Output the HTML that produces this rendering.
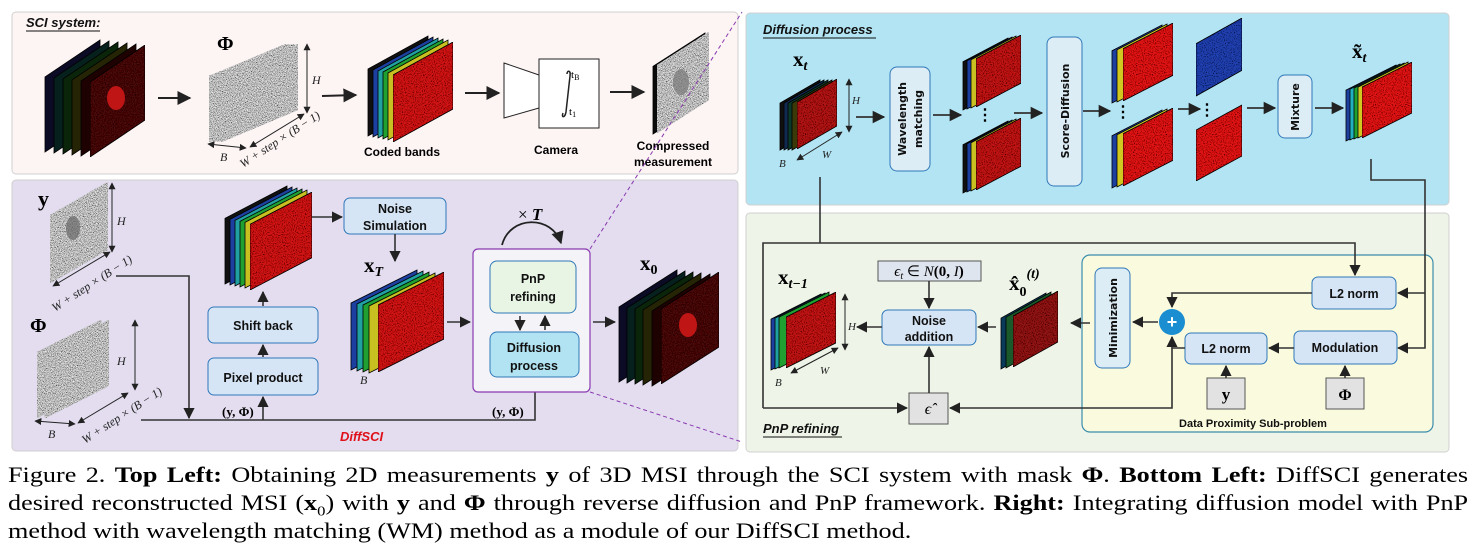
<!DOCTYPE html>
<html><head><meta charset="utf-8"><style>
body{margin:0;background:#fff;width:1476px;height:556px;overflow:hidden;position:relative}
svg{position:absolute;left:0;top:0}
.cap{position:absolute;left:8px;width:1227px;transform:scaleX(1.19);transform-origin:0 0;font-family:"Liberation Serif",serif;font-size:22px;line-height:28px;color:#000;white-space:nowrap}
.j{text-align:justify;text-align-last:justify;white-space:normal}
.cap b{font-weight:bold}
</style></head><body>
<svg width="1476" height="460" viewBox="0 0 1476 460" font-family="'Liberation Sans Narrow','Liberation Sans',sans-serif">
<defs>
<polygon id="s" points="0,0.33 1,0 1,0.67 0,1" stroke="#000" stroke-width="0.8" vector-effect="non-scaling-stroke"/>
<filter id="nz" x="0" y="0" width="1" height="1"><feTurbulence type="fractalNoise" baseFrequency="0.9" numOctaves="1" seed="3" result="t"/><feColorMatrix in="t" type="matrix" values="0 0 0 0 0  0 0 0 0 0  0 0 0 0 0  0 0 0 -3 1.6" result="d"/><feComposite in="d" in2="SourceGraphic" operator="in" result="dm"/><feMerge><feMergeNode in="SourceGraphic"/><feMergeNode in="dm"/></feMerge></filter>
<filter id="ng" x="0" y="0" width="1" height="1"><feTurbulence type="fractalNoise" baseFrequency="1.2" numOctaves="1" seed="7" result="t"/><feColorMatrix in="t" type="matrix" values="2 0 0 0 -0.5  2 0 0 0 -0.5  2 0 0 0 -0.5  0 0 0 0 1" result="d"/><feComposite in="d" in2="SourceGraphic" operator="in"/></filter>
<marker id="a" viewBox="0 0 10 10" refX="9" refY="5" markerWidth="7" markerHeight="7" orient="auto-start-reverse"><path d="M0,0 L10,5 L0,10 z" fill="#222"/></marker>
</defs>

<rect x="12" y="12" width="726" height="162" rx="4" fill="#fdf4f4" stroke="#d0d0d0"/>
<rect x="12" y="180" width="726" height="271" rx="4" fill="#e3ddef" stroke="#d0d0d0"/>
<rect x="746" y="13" width="703" height="192" rx="4" fill="#b2e4f3" stroke="#d0d0d0"/>
<rect x="746" y="213" width="703" height="239" rx="4" fill="#eef5e8" stroke="#d0d0d0"/>
<rect x="1082" y="255" width="351" height="177" rx="8" fill="#fafade" stroke="#3a8cad" stroke-width="1.2"/>

<g font-style="italic" font-weight="bold" font-size="13" fill="#111">
<text x="26" y="27">SCI system:</text><line x1="26" y1="31" x2="100" y2="31" stroke="#111"/>
<text x="763" y="34">Diffusion process</text><line x1="763" y1="38" x2="876" y2="38" stroke="#111"/>
<text x="763" y="433">PnP refining</text><line x1="763" y1="437" x2="842" y2="437" stroke="#111"/>
<text x="340" y="441" fill="#e0101a">DiffSCI</text>
</g>

<use href="#s" transform="translate(45 40) scale(55 112)" fill="#0b0b25"/>
<use href="#s" transform="translate(54 41) scale(55 112)" fill="#06201e"/>
<use href="#s" transform="translate(63 42) scale(55 112)" fill="#0a250a"/>
<use href="#s" transform="translate(72 43) scale(55 112)" fill="#252505"/>
<use href="#s" transform="translate(81 44) scale(55 112)" fill="#1e0202"/>
<g filter="url(#nz)"><use href="#s" transform="translate(90 45) scale(55 112)" fill="#4a0808"/></g>
<ellipse cx="116" cy="98" rx="9" ry="12" fill="#c01515"/>
<line x1="158" y1="98" x2="190" y2="98" stroke="#222" stroke-width="2" marker-end="url(#a)"/>

<text x="217" y="50" font-family="Liberation Serif" font-weight="bold" font-size="20">Φ</text>
<g filter="url(#ng)">
<use href="#s" transform="translate(209 44) scale(77 98)" fill="#888"/>
<use href="#s" transform="translate(213 44) scale(77 98)" fill="#888"/>
<use href="#s" transform="translate(217 44) scale(77 98)" fill="#8a8a8a"/>
<use href="#s" transform="translate(221 44) scale(77 98)" fill="#8c8c8c"/>
</g>
<line x1="307" y1="44" x2="307" y2="113" stroke="#222" marker-start="url(#a)" marker-end="url(#a)"/>
<line x1="250" y1="147" x2="304" y2="114" stroke="#222" marker-start="url(#a)" marker-end="url(#a)"/>
<line x1="208" y1="144" x2="246" y2="148" stroke="#222" marker-start="url(#a)" marker-end="url(#a)"/>
<g font-family="Liberation Serif" font-style="italic" font-size="12" fill="#222">
<text x="312" y="84">H</text><text x="220" y="161">B</text>
<text transform="translate(243 168) rotate(-33)">W + step  × (B − 1)</text>
</g>
<line x1="322" y1="96" x2="356" y2="95" stroke="#222" stroke-width="2" marker-end="url(#a)"/>

<use href="#s" transform="translate(368 36) scale(60 100)" fill="#101010"/>
<use href="#s" transform="translate(373 37) scale(60 100)" fill="#1c3fa0"/>
<use href="#s" transform="translate(378 38) scale(60 100)" fill="#20a0a0"/>
<use href="#s" transform="translate(383 39) scale(60 100)" fill="#20a030"/>
<use href="#s" transform="translate(388 40) scale(60 100)" fill="#c8c020"/>
<g filter="url(#nz)"><use href="#s" transform="translate(393 42) scale(60 100)" fill="#d01818"/></g>
<text x="402" y="156" text-anchor="middle" font-weight="bold" font-size="12">Coded bands</text>
<line x1="465" y1="93" x2="499" y2="93" stroke="#222" stroke-width="2" marker-end="url(#a)"/>
<polygon points="504,63 539,75 539,108 504,118" fill="#fff" stroke="#222"/>
<rect x="539" y="59" width="60" height="69" fill="#fff" stroke="#222"/>
<path d="M567,74 C567,70 571,70 570,76 L566,112 C565,118 561,118 563,113" fill="none" stroke="#222" stroke-width="1.5"/>
<text x="571" y="78" font-family="Liberation Serif" font-size="11">t<tspan font-size="8" dy="2">B</tspan></text>
<text x="569" y="115" font-family="Liberation Serif" font-size="11">t<tspan font-size="8" dy="2">1</tspan></text>
<text x="556" y="154" text-anchor="middle" font-weight="bold" font-size="12">Camera</text>
<line x1="610" y1="92" x2="644" y2="92" stroke="#222" stroke-width="2" marker-end="url(#a)"/>
<use href="#s" transform="translate(653 33) scale(52 101)" fill="#0a0a0a"/>
<g filter="url(#ng)"><use href="#s" transform="translate(657 32) scale(52 101)" fill="#222"/></g>
<ellipse cx="681" cy="82" rx="8" ry="13" fill="#777" opacity="0.7"/>
<text x="673" y="150" text-anchor="middle" font-weight="bold" font-size="12">Compressed</text>
<text x="673" y="166" text-anchor="middle" font-weight="bold" font-size="12">measurement</text>

<text x="38" y="206" font-family="Liberation Serif" font-weight="bold" font-size="22">y</text>
<g filter="url(#ng)"><use href="#s" transform="translate(50 182) scale(58 101)" fill="#1a1a1a"/></g>
<ellipse cx="73" cy="228" rx="7" ry="12" fill="#666" opacity="0.7"/>
<line x1="112" y1="183" x2="112" y2="252" stroke="#222" marker-start="url(#a)" marker-end="url(#a)"/>
<line x1="53" y1="286" x2="110" y2="252" stroke="#222" marker-start="url(#a)" marker-end="url(#a)"/>
<g font-family="Liberation Serif" font-style="italic" font-size="12" fill="#222">
<text x="117" y="225">H</text>
<text transform="translate(55 312) rotate(-33)">W + step  × (B − 1)</text>
<text x="117" y="365">H</text><text x="48" y="438">B</text>
<text transform="translate(85 444) rotate(-33)">W + step  × (B − 1)</text>
<text x="360" y="384">B</text>
</g>
<polyline points="116,276 189,276 189,418" fill="none" stroke="#333" stroke-width="1.6" marker-end="url(#a)"/>
<text x="30" y="332" font-family="Liberation Serif" font-weight="bold" font-size="20">Φ</text>
<g filter="url(#ng)">
<use href="#s" transform="translate(37 320) scale(64 98)" fill="#888"/>
<use href="#s" transform="translate(45 320) scale(64 98)" fill="#8a8a8a"/>
</g>
<line x1="135" y1="320" x2="135" y2="390" stroke="#222" marker-start="url(#a)" marker-end="url(#a)"/>
<line x1="35" y1="421" x2="75" y2="424" stroke="#222" marker-start="url(#a)" marker-end="url(#a)"/>
<line x1="78" y1="423" x2="128" y2="393" stroke="#222" marker-start="url(#a)" marker-end="url(#a)"/>
<polyline points="141,420 535,420 535,380" fill="none" stroke="#333" stroke-width="1.6" marker-end="url(#a)"/>
<line x1="263" y1="420" x2="263" y2="397" stroke="#333" stroke-width="1.6" marker-end="url(#a)"/>
<text x="222" y="416" font-family="Liberation Serif" font-weight="bold" font-size="13">(y, Φ)</text>
<text x="492" y="416" font-family="Liberation Serif" font-weight="bold" font-size="13">(y, Φ)</text>

<g font-size="12.5" font-weight="bold" fill="#111" text-anchor="middle">
<rect x="208" y="358" width="110" height="37" rx="6" fill="#d6e5f6" stroke="#2f78b8"/>
<text x="263" y="382">Pixel product</text>
<rect x="208" y="307" width="110" height="36" rx="6" fill="#d6e5f6" stroke="#2f78b8"/>
<text x="263" y="330">Shift back</text>
<rect x="344" y="198" width="102" height="36" rx="6" fill="#d6e5f6" stroke="#2f78b8"/>
<text x="395" y="213">Noise</text><text x="395" y="230">Simulation</text>
</g>
<line x1="263" y1="357" x2="263" y2="345" stroke="#333" stroke-width="1.6" marker-end="url(#a)"/>
<line x1="263" y1="306" x2="263" y2="292" stroke="#333" stroke-width="1.6" marker-end="url(#a)"/>
<use href="#s" transform="translate(225 186) scale(62 98)" fill="#101010"/>
<use href="#s" transform="translate(230 187) scale(62 98)" fill="#1c3fa0"/>
<use href="#s" transform="translate(235 188) scale(62 98)" fill="#20a0a0"/>
<use href="#s" transform="translate(240 189) scale(62 98)" fill="#20a030"/>
<use href="#s" transform="translate(245 190) scale(62 98)" fill="#c8c020"/>
<g filter="url(#nz)"><use href="#s" transform="translate(250 192) scale(62 98)" fill="#d01818"/></g>
<line x1="312" y1="217" x2="342" y2="217" stroke="#333" stroke-width="1.6" marker-end="url(#a)"/>
<line x1="395" y1="234" x2="395" y2="261" stroke="#333" stroke-width="1.6" marker-end="url(#a)"/>
<text x="364" y="272" font-family="Liberation Serif" font-weight="bold" font-size="21">x<tspan font-size="14" dy="4" font-style="italic">T</tspan></text>
<use href="#s" transform="translate(351 270) scale(66 100)" fill="#1c3fa0"/>
<use href="#s" transform="translate(357 271) scale(66 100)" fill="#20a0a0"/>
<use href="#s" transform="translate(363 272) scale(66 100)" fill="#20a030"/>
<use href="#s" transform="translate(369 273) scale(66 100)" fill="#c8c020"/>
<g filter="url(#nz)"><use href="#s" transform="translate(378 272) scale(66 100)" fill="#d01818"/></g>
<line x1="447" y1="322" x2="470" y2="322" stroke="#333" stroke-width="1.6" marker-end="url(#a)"/>

<rect x="473" y="249" width="117" height="143" rx="5" fill="#f4f4f8" stroke="#8a3ab0" stroke-width="1.2"/>
<path d="M502,245 C510,215 552,215 561,243" fill="none" stroke="#222" stroke-width="1.8" marker-end="url(#a)"/>
<text x="518" y="220" font-family="Liberation Serif" font-size="17">× <tspan font-weight="bold" font-style="italic">T</tspan></text>
<g font-size="12.5" font-weight="bold" fill="#111" text-anchor="middle">
<rect x="490" y="261" width="86" height="52" rx="7" fill="#e8f4e4" stroke="#2f78b8"/>
<text x="533" y="283">PnP</text><text x="533" y="301">refining</text>
<rect x="490" y="332" width="89" height="45" rx="7" fill="#b2e3f2" stroke="#2f78b8"/>
<text x="534" y="352">Diffusion</text><text x="534" y="370">process</text>
</g>
<line x1="520" y1="316" x2="520" y2="330" stroke="#333" stroke-width="1.6" marker-end="url(#a)"/>
<line x1="545" y1="330" x2="545" y2="316" stroke="#333" stroke-width="1.6" marker-end="url(#a)"/>
<line x1="593" y1="322" x2="615" y2="322" stroke="#333" stroke-width="1.6" marker-end="url(#a)"/>
<text x="640" y="270" font-family="Liberation Serif" font-weight="bold" font-size="21">x<tspan font-size="14" dy="4">0</tspan></text>
<use href="#s" transform="translate(619 270) scale(58 112)" fill="#0b0b25"/>
<use href="#s" transform="translate(627 271) scale(58 112)" fill="#06201e"/>
<use href="#s" transform="translate(635 272) scale(58 112)" fill="#0a250a"/>
<use href="#s" transform="translate(643 273) scale(58 112)" fill="#252505"/>
<use href="#s" transform="translate(652 274) scale(58 112)" fill="#1e0202"/>
<g filter="url(#nz)"><use href="#s" transform="translate(661 272) scale(58 112)" fill="#4a0808"/></g>
<ellipse cx="688" cy="325" rx="9" ry="12" fill="#c01515"/>
<line x1="590" y1="249" x2="742" y2="12" stroke="#8a3ab0" stroke-dasharray="4 3"/>
<line x1="590" y1="392" x2="742" y2="442" stroke="#8a3ab0" stroke-dasharray="4 3"/>

<text x="793" y="66" font-family="Liberation Serif" font-weight="bold" font-size="21">x<tspan font-size="14" dy="4" font-style="italic">t</tspan></text>
<use href="#s" transform="translate(780 80) scale(40 70)" fill="#101010"/>
<use href="#s" transform="translate(784 80) scale(40 70)" fill="#102a50"/>
<use href="#s" transform="translate(788 80) scale(40 70)" fill="#0a3a2a"/>
<use href="#s" transform="translate(792 80) scale(40 70)" fill="#3a3a08"/>
<g filter="url(#nz)"><use href="#s" transform="translate(797 79) scale(40 70)" fill="#b01515"/></g>
<line x1="849" y1="79" x2="849" y2="132" stroke="#222" marker-start="url(#a)" marker-end="url(#a)"/>
<line x1="797" y1="160" x2="842" y2="132" stroke="#222" marker-start="url(#a)" marker-end="url(#a)"/>
<g font-family="Liberation Serif" font-style="italic" font-size="11" fill="#222">
<text x="852" y="104">H</text><text x="822" y="158">W</text><text x="779" y="167">B</text>
<text x="848" y="330">H</text><text x="820" y="374">W</text><text x="775" y="386">B</text>
</g>
<line x1="856" y1="117" x2="884" y2="117" stroke="#333" stroke-width="1.8" marker-end="url(#a)"/>
<g font-size="12.5" font-weight="bold" fill="#111" text-anchor="middle" font-family="'DejaVu Sans',sans-serif">
<rect x="890" y="67" width="40" height="104" rx="7" fill="#dcedf6" stroke="#2f78b8"/>
<text transform="translate(906 119) rotate(-90)" font-size="11">Wavelength</text>
<text transform="translate(922 119) rotate(-90)" font-size="11">matching</text>
<rect x="1047" y="37" width="35" height="149" rx="7" fill="#dcedf6" stroke="#2f78b8"/>
<text transform="translate(1069 111) rotate(-90)" font-size="11">Score-Diffusion</text>
<rect x="1278" y="75" width="34" height="63" rx="7" fill="#dcedf6" stroke="#2f78b8"/>
<text transform="translate(1299 107) rotate(-90)" font-size="11">Mixture</text>
<rect x="1095" y="268" width="35" height="100" rx="7" fill="#dcedf6" stroke="#2f78b8"/>
<text transform="translate(1117 318) rotate(-90)" font-size="11">Minimization</text>
</g>
<line x1="933" y1="115" x2="961" y2="115" stroke="#333" stroke-width="1.8" marker-end="url(#a)"/>
<use href="#s" transform="translate(963 38) scale(45 72)" fill="#101010"/>
<use href="#s" transform="translate(967 37) scale(45 72)" fill="#1c3fa0"/>
<use href="#s" transform="translate(971 36) scale(45 72)" fill="#c8c020"/>
<g filter="url(#nz)"><use href="#s" transform="translate(976 35) scale(45 72)" fill="#c01818"/></g>
<use href="#s" transform="translate(963 121) scale(45 72)" fill="#101010"/>
<use href="#s" transform="translate(967 120) scale(45 72)" fill="#1c3fa0"/>
<use href="#s" transform="translate(971 119) scale(45 72)" fill="#c8c020"/>
<g filter="url(#nz)"><use href="#s" transform="translate(976 118) scale(45 72)" fill="#c01818"/></g>
<text x="985" y="120" font-weight="bold" font-size="16" text-anchor="middle">⋮</text>
<line x1="1014" y1="113" x2="1042" y2="113" stroke="#333" stroke-width="1.8" marker-end="url(#a)"/>
<line x1="1083" y1="111" x2="1110" y2="111" stroke="#333" stroke-width="1.8" marker-end="url(#a)"/>
<use href="#s" transform="translate(1112 25) scale(50 78)" fill="#1c3fa0"/>
<use href="#s" transform="translate(1117 24) scale(50 78)" fill="#d0c820"/>
<g filter="url(#nz)"><use href="#s" transform="translate(1123 23) scale(50 78)" fill="#e01818"/></g>
<use href="#s" transform="translate(1112 110) scale(50 78)" fill="#1c3fa0"/>
<use href="#s" transform="translate(1117 109) scale(50 78)" fill="#d0c820"/>
<g filter="url(#nz)"><use href="#s" transform="translate(1123 108) scale(50 78)" fill="#e01818"/></g>
<text x="1123" y="117" font-weight="bold" font-size="16" text-anchor="middle">⋮</text>
<line x1="1178" y1="109" x2="1200" y2="109" stroke="#333" stroke-width="1.8" marker-end="url(#a)"/>
<text x="1207" y="115" font-weight="bold" font-size="16" text-anchor="middle">⋮</text>
<g filter="url(#nz)"><use href="#s" transform="translate(1196 18) scale(46 78)" fill="#2040b0"/>
<use href="#s" transform="translate(1196 105) scale(46 76)" fill="#e01818"/></g>
<line x1="1247" y1="108" x2="1275" y2="108" stroke="#333" stroke-width="1.8" marker-end="url(#a)"/>
<line x1="1315" y1="108" x2="1343" y2="108" stroke="#333" stroke-width="1.8" marker-end="url(#a)"/>
<text x="1352" y="58" font-family="Liberation Serif" font-weight="bold" font-size="21">x̃<tspan font-size="14" dy="4" font-style="italic">t</tspan></text>
<use href="#s" transform="translate(1346 65) scale(50 76)" fill="#1c3fa0"/>
<use href="#s" transform="translate(1350 64) scale(50 76)" fill="#20b0c0"/>
<use href="#s" transform="translate(1354 63) scale(50 76)" fill="#20a030"/>
<use href="#s" transform="translate(1358 62) scale(50 76)" fill="#d0c820"/>
<g filter="url(#nz)"><use href="#s" transform="translate(1362 62) scale(50 76)" fill="#e01818"/></g>

<polyline points="1371,159 1371,180 1425,180 1425,348 1398,348" fill="none" stroke="#333" stroke-width="1.6" marker-end="url(#a)"/>
<line x1="1425" y1="293" x2="1398" y2="293" stroke="#333" stroke-width="1.6" marker-end="url(#a)"/>
<polyline points="820,177 820,243" fill="none" stroke="#333" stroke-width="1.6"/>
<polyline points="763,408 763,243 1355,243 1355,275" fill="none" stroke="#333" stroke-width="1.6" marker-end="url(#a)"/>
<line x1="763" y1="408" x2="907" y2="408" stroke="#333" stroke-width="1.6" marker-end="url(#a)"/>

<text x="778" y="284" font-family="Liberation Serif" font-weight="bold" font-size="21">x<tspan font-size="14" dy="4" font-style="italic">t−1</tspan></text>
<use href="#s" transform="translate(771 294) scale(50 76)" fill="#1c3fa0"/>
<use href="#s" transform="translate(775 293) scale(50 76)" fill="#20a0a0"/>
<use href="#s" transform="translate(779 292) scale(50 76)" fill="#20a030"/>
<g filter="url(#nz)"><use href="#s" transform="translate(786 292) scale(50 76)" fill="#c01818"/></g>
<line x1="845" y1="294" x2="845" y2="350" stroke="#222" marker-start="url(#a)" marker-end="url(#a)"/>
<line x1="791" y1="373" x2="838" y2="348" stroke="#222" marker-start="url(#a)" marker-end="url(#a)"/>
<rect x="878" y="261" width="103" height="20" fill="#dfe5ee" stroke="#555"/>
<text x="929" y="276" text-anchor="middle" font-family="Liberation Serif" font-size="15" font-style="italic">ϵ<tspan font-size="10" dy="3">t</tspan><tspan dy="-3" font-style="normal"> ∈ </tspan>N<tspan font-style="normal" font-weight="bold">(0, </tspan>I<tspan font-style="normal" font-weight="bold">)</tspan></text>
<line x1="929" y1="281" x2="929" y2="308" stroke="#333" stroke-width="1.6" marker-end="url(#a)"/>
<g font-size="12.5" font-weight="bold" fill="#111" text-anchor="middle">
<rect x="882" y="310" width="94" height="35" rx="6" fill="#d6e5f6" stroke="#2f78b8"/>
<text x="929" y="325">Noise</text><text x="929" y="341">addition</text>
<rect x="1312" y="277" width="84" height="32" rx="6" fill="#d6e5f6" stroke="#2f78b8"/>
<text x="1354" y="298">L2 norm</text>
<rect x="1185" y="333" width="82" height="31" rx="6" fill="#d6e5f6" stroke="#2f78b8"/>
<text x="1226" y="353">L2 norm</text>
<rect x="1294" y="331" width="103" height="33" rx="6" fill="#d6e5f6" stroke="#2f78b8"/>
<text x="1345" y="352">Modulation</text>
<text x="1253" y="427" font-size="11">Data Proximity Sub-problem</text>
</g>
<line x1="882" y1="327" x2="857" y2="327" stroke="#333" stroke-width="1.6" marker-end="url(#a)"/>
<line x1="996" y1="327" x2="978" y2="327" stroke="#333" stroke-width="1.6" marker-end="url(#a)"/>
<text x="1009" y="290" font-family="Liberation Serif" font-weight="bold" font-size="21">x̂<tspan font-size="14" dy="6">0</tspan><tspan font-size="14" dy="-18" font-style="italic">(t)</tspan></text>
<use href="#s" transform="translate(1001 293) scale(45 76)" fill="#0a3a5a"/>
<use href="#s" transform="translate(1006 292) scale(45 76)" fill="#1a5a2a"/>
<g filter="url(#nz)"><use href="#s" transform="translate(1013 291) scale(45 76)" fill="#901515"/></g>
<line x1="1090" y1="323" x2="1071" y2="323" stroke="#333" stroke-width="1.6" marker-end="url(#a)"/>
<line x1="1158" y1="322" x2="1133" y2="322" stroke="#333" stroke-width="1.6" marker-end="url(#a)"/>
<circle cx="1172" cy="322" r="13" fill="#1a8ed0"/>
<text x="1172" y="328" text-anchor="middle" fill="#fff" font-size="18" font-weight="bold">+</text>
<polyline points="1312,293 1172,293 1172,307" fill="none" stroke="#333" stroke-width="1.6" marker-end="url(#a)"/>
<polyline points="1185,348 1172,348 1172,337" fill="none" stroke="#333" stroke-width="1.6" marker-end="url(#a)"/>
<polyline points="1172,348 1172,408 950,408" fill="none" stroke="#333" stroke-width="1.6" marker-end="url(#a)"/>
<line x1="1294" y1="348" x2="1269" y2="348" stroke="#333" stroke-width="1.6" marker-end="url(#a)"/>
<rect x="1207" y="378" width="38" height="31" fill="#e2e2e2" stroke="#555"/>
<text x="1226" y="400" text-anchor="middle" font-family="Liberation Serif" font-weight="bold" font-size="17">y</text>
<rect x="1326" y="378" width="38" height="31" fill="#e2e2e2" stroke="#555"/>
<text x="1345" y="400" text-anchor="middle" font-family="Liberation Serif" font-weight="bold" font-size="16">Φ</text>
<line x1="1226" y1="378" x2="1226" y2="366" stroke="#333" stroke-width="1.6" marker-end="url(#a)"/>
<line x1="1345" y1="378" x2="1345" y2="366" stroke="#333" stroke-width="1.6" marker-end="url(#a)"/>
<rect x="909" y="393" width="39" height="31" fill="#e2e2e2" stroke="#555"/>
<text x="928" y="414" text-anchor="middle" font-family="Liberation Serif" font-style="italic" font-size="16">ϵ̂</text>
<line x1="929" y1="393" x2="929" y2="347" stroke="#333" stroke-width="1.6" marker-end="url(#a)"/>
</svg>

<div class="cap j" style="top:461px">Figure 2. <b>Top Left:</b> Obtaining 2D measurements <b>y</b> of 3D MSI through the SCI system with mask <b>Φ</b>. <b>Bottom Left:</b> DiffSCI generates</div>
<div class="cap j" style="top:489px">desired reconstructed MSI (<b>x</b><sub style="font-size:14px">0</sub>) with <b>y</b> and <b>Φ</b> through reverse diffusion and PnP framework. <b>Right:</b> Integrating diffusion model with PnP</div>
<div class="cap" style="top:517px">method with wavelength matching (WM) method as a module of our DiffSCI method.</div>
</body></html>
